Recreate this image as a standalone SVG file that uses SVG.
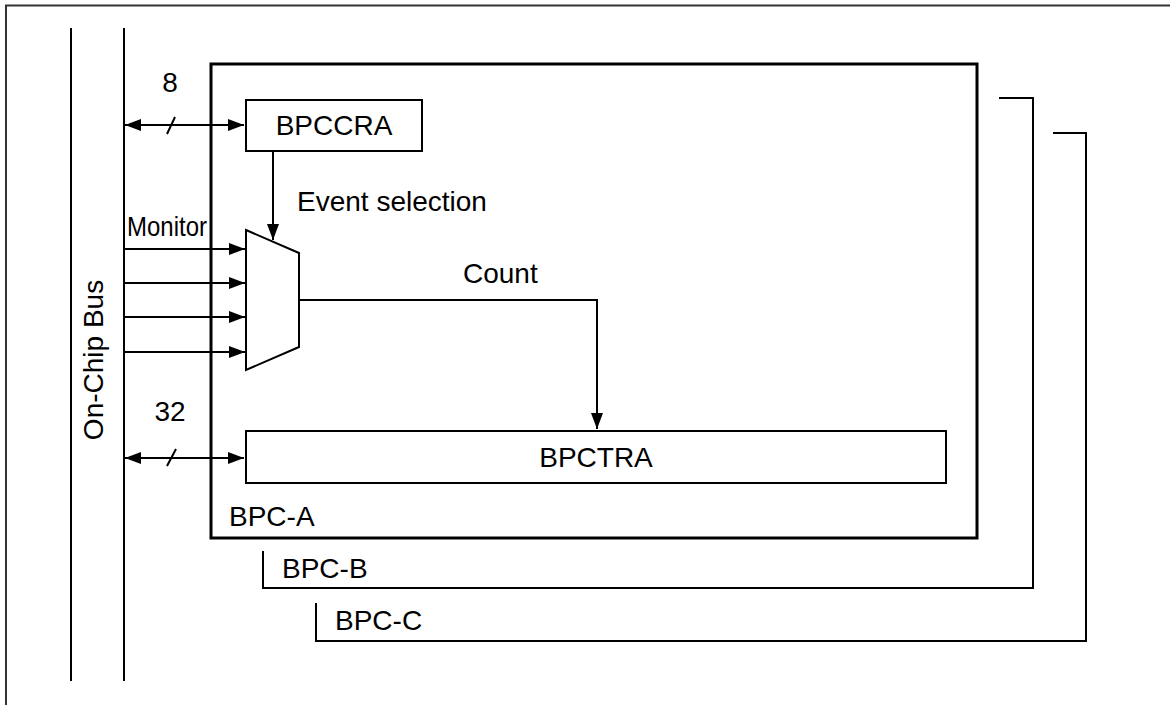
<svg xmlns="http://www.w3.org/2000/svg" width="1170" height="705" viewBox="0 0 1170 705">
<style>
text{font-family:"Liberation Sans",Arial,sans-serif;font-size:28px;fill:#000}
.ln{fill:none;stroke:#000;stroke-width:2}
.box{fill:#fff;stroke:#000;stroke-width:2}
</style>
<defs>
<marker id="ah" viewBox="0 0 16 12" refX="16" refY="6" markerWidth="16" markerHeight="12" markerUnits="userSpaceOnUse" orient="auto-start-reverse">
<path d="M0,0 L16,6 L0,12 Z" fill="#000"/>
</marker>
</defs>
<rect width="1170" height="705" fill="#fff"/>
<g id="frame">
<path d="M6,705 V5.5 H1170" fill="none" stroke="#333" stroke-width="2"/>
</g>
<g id="bus">
<line class="ln" x1="71" y1="28" x2="71" y2="681"/>
<line class="ln" x1="124" y1="28" x2="124" y2="681"/>
<text transform="translate(103,360) rotate(-90)" text-anchor="middle">On-Chip Bus</text>
</g>
<g id="bpc-c">
<path class="ln" d="M316,603 V641 H1086 V133 H1053"/>
<text x="335" y="630">BPC-C</text>
</g>
<g id="bpc-b">
<path class="ln" d="M263,551 V588 H1033 V98 H999"/>
<text x="282" y="578">BPC-B</text>
</g>
<g id="bpc-a">
<rect x="211" y="64" width="766" height="474" fill="none" stroke="#000" stroke-width="3"/>
<text x="229" y="526">BPC-A</text>
</g>
<g id="bpccra">
<rect class="box" x="246" y="100" width="176" height="51"/>
<text x="334" y="135" text-anchor="middle">BPCCRA</text>
</g>
<g id="mux">
<path class="box" d="M246,230 L299,253 L299,347 L246,370 Z"/>
</g>
<g id="bpctra">
<rect class="box" x="246" y="431" width="700" height="52"/>
<text x="596" y="467" text-anchor="middle">BPCTRA</text>
</g>
<g id="connectors">
<line class="ln" x1="125" y1="125" x2="244" y2="125" marker-start="url(#ah)" marker-end="url(#ah)"/>
<line class="ln" x1="167" y1="134" x2="175" y2="117"/>
<text x="170" y="92" text-anchor="middle">8</text>
<line class="ln" x1="125" y1="458" x2="244" y2="458" marker-start="url(#ah)" marker-end="url(#ah)"/>
<line class="ln" x1="167" y1="466" x2="176" y2="449"/>
<text x="170" y="421" text-anchor="middle">32</text>
<line class="ln" x1="273" y1="151" x2="273" y2="240" marker-end="url(#ah)"/>
<text x="297" y="211">Event selection</text>
<line class="ln" x1="124" y1="249" x2="245" y2="249" marker-end="url(#ah)"/>
<line class="ln" x1="124" y1="283" x2="245" y2="283" marker-end="url(#ah)"/>
<line class="ln" x1="124" y1="317" x2="245" y2="317" marker-end="url(#ah)"/>
<line class="ln" x1="124" y1="352" x2="245" y2="352" marker-end="url(#ah)"/>
<text x="127" y="236" textLength="80" lengthAdjust="spacingAndGlyphs">Monitor</text>
<path class="ln" d="M299,300 H597 V429" marker-end="url(#ah)"/>
<text x="463" y="283">Count</text>
</g>
</svg>
